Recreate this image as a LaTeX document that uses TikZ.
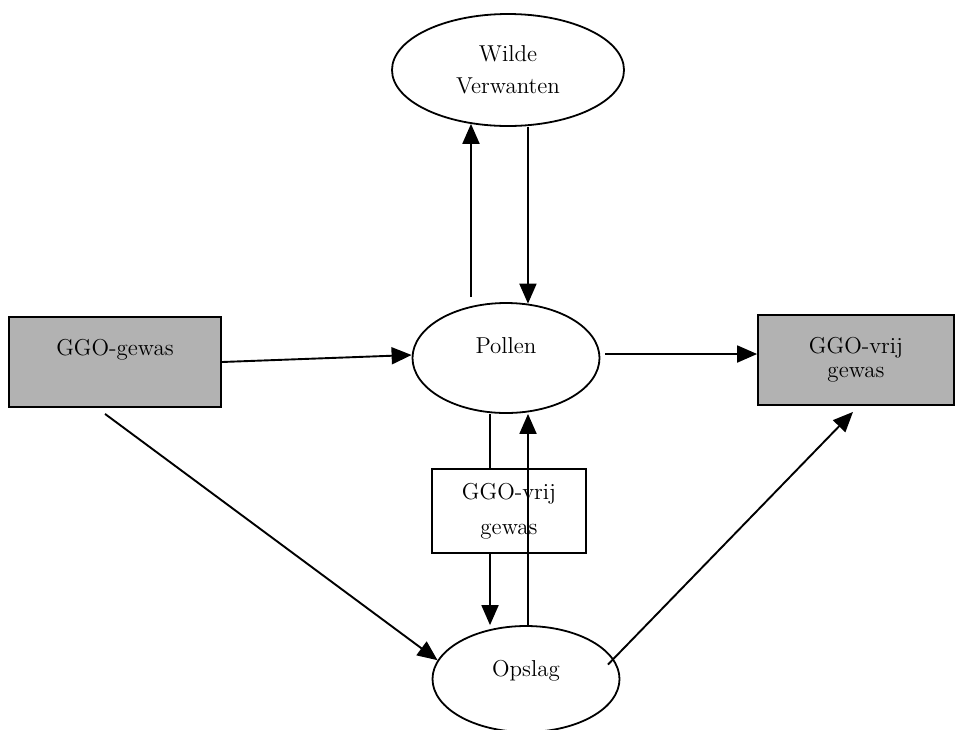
\documentclass[tikz,border=0pt]{standalone}
\usetikzlibrary{shapes.geometric,arrows.meta}
\definecolor{boxgrey}{RGB}{178,178,178}
\begin{document}
\begin{tikzpicture}[x=0.5pt, y=-0.5pt, ->, >={Triangle[length=10pt,width=8.5pt]}, line width=0.95pt,
        every node/.style={font=\fontsize{11.5}{16}\selectfont, line width=0.9pt},
        round node/.style={ellipse, draw, minimum width=93.5pt, minimum height=55pt, inner sep=0pt},
        crop node/.style={rectangle, draw, fill=boxgrey, minimum width=98pt, minimum height=45pt},
        mid node/.style={rectangle, draw, fill=white, minimum width=77pt, minimum height=42pt, align=center}]
    \useasboundingbox (0,0) rectangle (956,729);

    \node[round node, minimum width=116pt, minimum height=56pt, align=center] (wilde) at (508,70) {Wilde\\Verwanten};
    \node[round node, text height=8pt, text depth=13pt] (pollen) at (506,358) {Pollen};
    \node[round node, minimum height=53pt, text height=8pt, text depth=11pt] (opslag) at (526,679) {Opslag};
    \node[crop node, minimum width=106pt, text height=8pt, text depth=15pt] (gewas) at (115,362) {GGO-gewas};
    \node[crop node, align=center, font=\fontsize{11.5}{12}\selectfont] (vrij) at (856,360) {GGO-vrij\\gewas};
    \node[mid node, font=\fontsize{11.5}{17.5}\selectfont] (tussen) at (509,511) {GGO-vrij\\gewas};

    \path
        (pollen.124) edge[shorten <=4.5pt] (wilde.235 -| pollen.124)
        (wilde.south -| pollen.68) edge (pollen.68)
        (gewas.east) edge ([yshift=1.5pt]pollen.west)
        ([xshift=2.5pt,yshift=2pt]pollen.east) edge ([yshift=2pt]pollen.east -| vrij.west)
        ([xshift=-5pt,yshift=-3pt]gewas.south) edge (opslag.168)
        (opslag.13) edge[shorten <=-4pt] ([xshift=-1.5pt,yshift=-3pt]vrij.south)
        ([xshift=-9.5pt]tussen.north |- pollen.south) edge[-] ([xshift=-9.5pt]tussen.north)
        ([xshift=-9.5pt]tussen.south) edge ([xshift=-9.5pt]tussen.south |- opslag.north)
        ([xshift=1pt]opslag.north) edge ([xshift=1pt]opslag.north |- pollen.south);
\end{tikzpicture}
\end{document}
